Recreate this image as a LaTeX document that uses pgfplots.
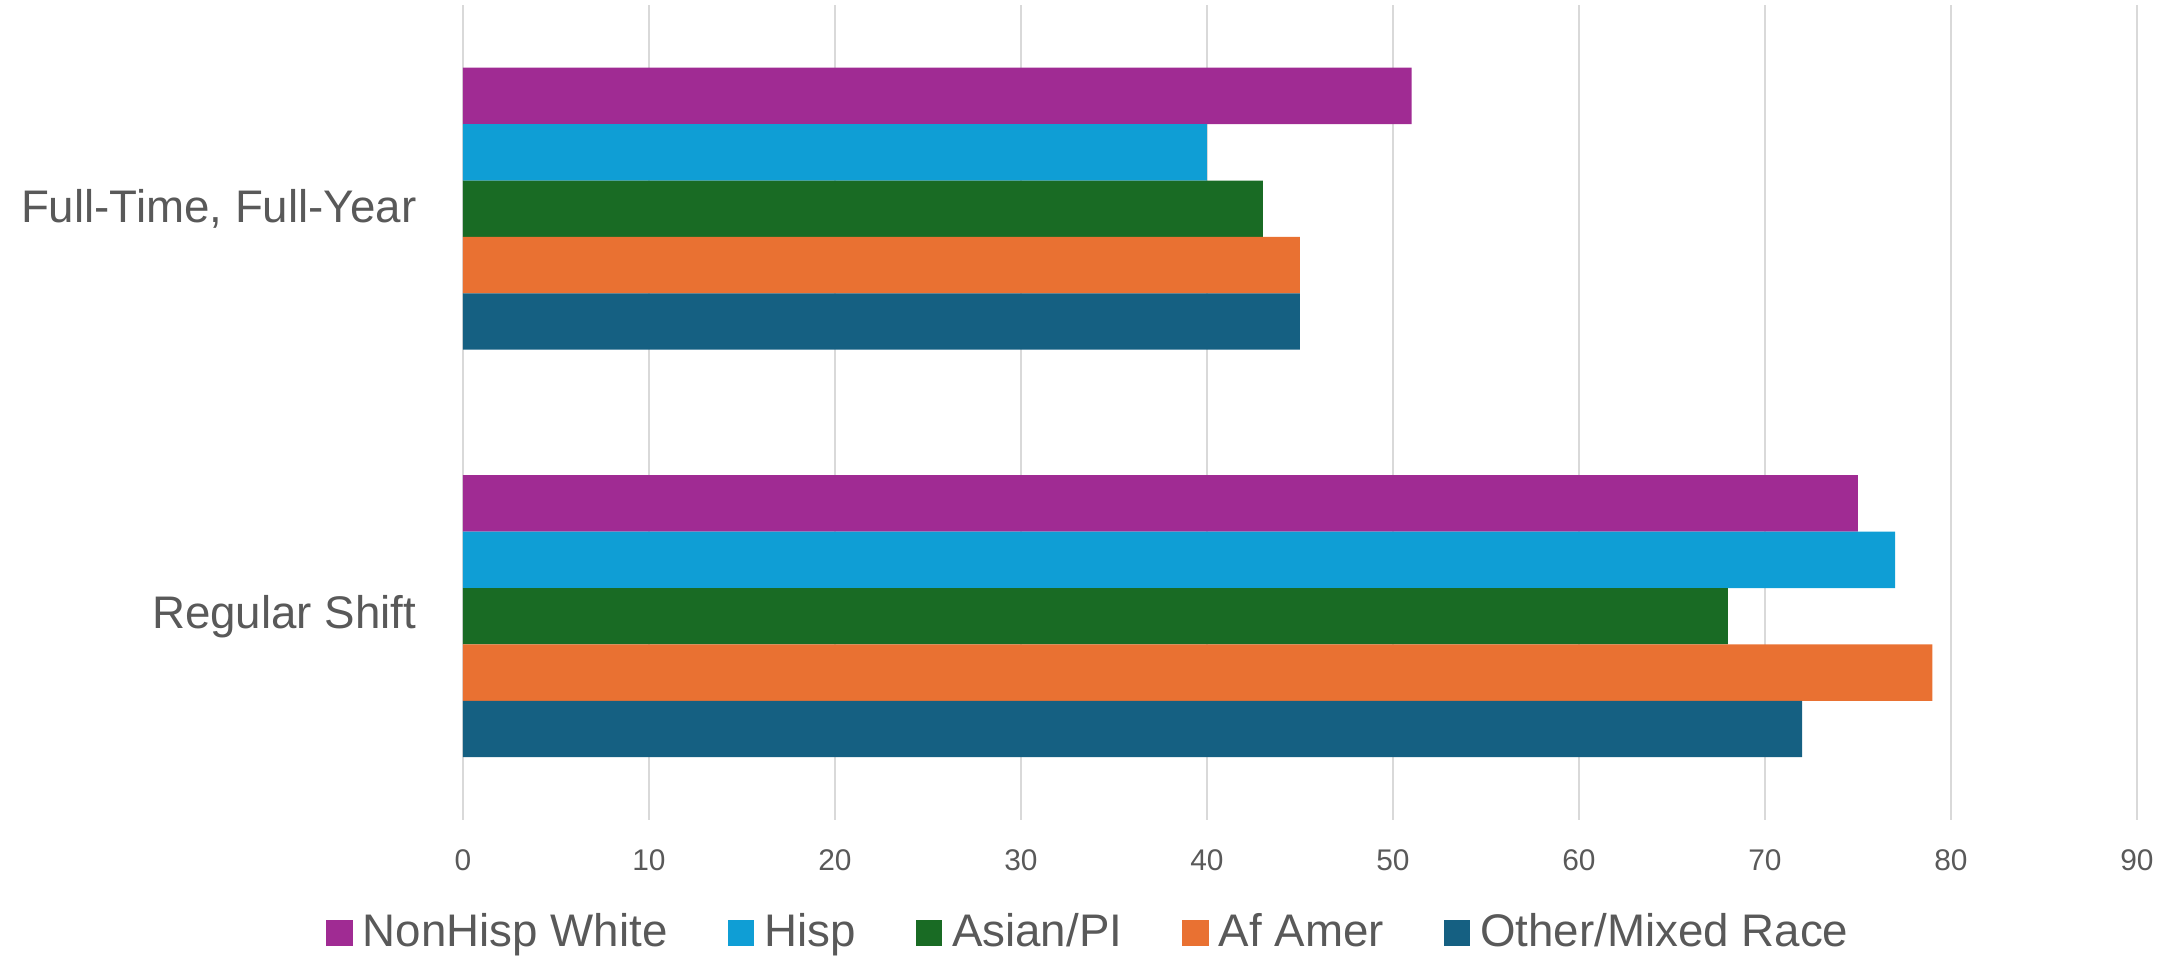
\documentclass[border=0pt]{standalone}
\usepackage{fontspec}
\setmainfont{Liberation Sans}
\usepackage{pgfplots}
\pgfplotsset{compat=1.18}
\definecolor{cNHW}{HTML}{A02B93}
\definecolor{cHisp}{HTML}{0F9ED5}
\definecolor{cAsian}{HTML}{196B24}
\definecolor{cAf}{HTML}{E97132}
\definecolor{cOther}{HTML}{156082}
\definecolor{txt}{HTML}{595959}
\definecolor{grd}{HTML}{D9D9D9}
\begin{document}
\begin{tikzpicture}
\begin{axis}[
  name=ax,
  scale only axis,
  width=16.74cm, height=8.15cm,
  xbar,
  bar width=0.564cm,
  xmin=0, xmax=90,
  ymin=-0.5, ymax=1.5,
  xtick={0,10,...,90},
  ytick={0,1},
  yticklabels={Regular Shift,{Full-Time, Full-Year}},
  xmajorgrids,
  major grid style={grd, line width=0.6pt},
  axis line style={draw=none},
  major tick length=0pt,
  /pgf/number format/assume math mode=true,
  xticklabel style={font=\fontsize{8.5}{10}\selectfont, text=txt, anchor=center, yshift=-0.4cm, inner sep=0pt},
  yticklabel style={font=\fontsize{13}{15}\selectfont, text=txt, anchor=east, inner sep=0pt, xshift=-0.46cm},
  legend columns=5,
  legend style={draw=none, fill=none, inner sep=0pt, font=\fontsize{13}{15}\selectfont, text=txt,
    at={(axis description cs:0.376,-0.1387)}, anchor=center,
    /tikz/every even column/.append style={column sep=0.5cm},
    nodes={inner xsep=0.1cm, inner ysep=0pt}},
  legend image code/.code={\fill[#1] (0cm,-0.1325cm) rectangle (0.265cm,0.1325cm);},
  clip=false,
]
\addplot[fill=cNHW, draw=none, bar shift=1.128cm] coordinates {(75,0) (51,1)};
\addplot[fill=cHisp, draw=none, bar shift=0.564cm] coordinates {(77,0) (40,1)};
\addplot[fill=cAsian, draw=none, bar shift=0cm] coordinates {(68,0) (43,1)};
\addplot[fill=cAf, draw=none, bar shift=-0.564cm] coordinates {(79,0) (45,1)};
\addplot[fill=cOther, draw=none, bar shift=-1.128cm] coordinates {(72,0) (45,1)};
\legend{NonHisp White, Hisp, Asian/PI, Af Amer, Other/Mixed Race}
\end{axis}
\path (ax.south west) ++(-4.63cm,-1.36cm);
\path (ax.south west) ++(17.15cm,8.20cm);
\end{tikzpicture}
\end{document}
